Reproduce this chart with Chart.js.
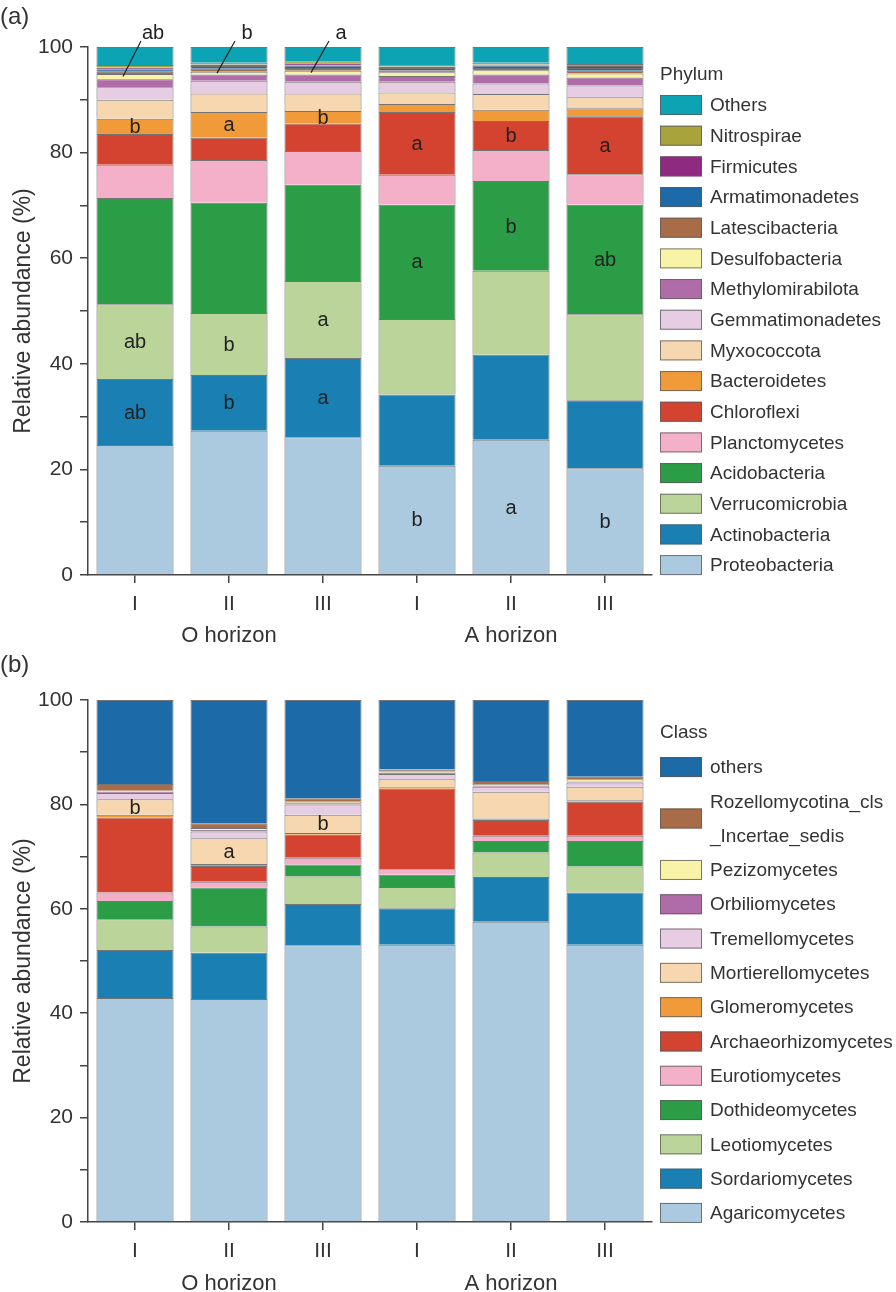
<!DOCTYPE html>
<html>
<head>
<meta charset="utf-8">
<script src="https://cdn.jsdelivr.net/npm/chart.js@4.4.1/dist/chart.umd.min.js"></script>
<style>
  html, body { margin: 0; padding: 0; background: #fff; }
  #wrap { position: relative; width: 896px; height: 1292px; }
  .panel { position: absolute; left: 0; width: 896px; height: 646px; }
  #panelA { top: 0; }
  #panelB { top: 646px; }
</style>
</head>
<body>
<div id="wrap">
  <div class="panel" id="panelA"><canvas id="chartA"></canvas></div>
  <div class="panel" id="panelB"><canvas id="chartB"></canvas></div>
</div>
<script>
// ── Data ───────────────────────────────────────────────────────────
const samples  = ['I', 'II', 'III', 'I', 'II', 'III'];
const horizons = ['O horizon', 'A horizon'];
const yTicks   = [0, 20, 40, 60, 80, 100];

// (a) phylum, bottom to top of each bar
const proteobacteria    = [24.6, 27.3, 26.1, 20.7, 25.6, 20.2];
const actinobacteria    = [12.5, 10.6, 15.0, 13.5, 16.1, 12.9];
const verrucomicrobia   = [14.2, 11.7, 14.6, 14.3, 15.9, 16.3];
const acidobacteria     = [20.1, 20.9, 18.2, 21.6, 17.0, 20.7];
const planctomycetes    = [6.3, 8.1, 6.4, 5.7, 5.9, 5.8];
const chloroflexi       = [5.8, 4.2, 5.2, 11.9, 5.5, 11.0];
const bacteroidetes     = [2.9, 4.9, 2.4, 1.5, 2.1, 1.5];
const myxococcota       = [3.6, 3.5, 3.3, 2.2, 3.0, 2.1];
const gemmatimonadetes  = [2.4, 2.4, 2.2, 2.0, 2.0, 2.2];
const methylomirabilota = [1.5, 1.2, 1.4, 1.1, 1.7, 1.5];
const desulfobacteria   = [1.0, 0.5, 0.7, 0.7, 0.8, 0.8];
const latescibacteria   = [0.4, 0.6, 0.5, 0.4, 0.4, 0.5];
const armatimonadetes   = [0.5, 0.5, 0.5, 0.4, 0.5, 0.5];
const firmicutes        = [0.3, 0.3, 0.4, 0.3, 0.2, 0.4];
const nitrospirae       = [0.5, 0.3, 0.4, 0.3, 0.3, 0.4];
const othersPhylum      = [3.4, 3.0, 2.7, 3.4, 3.0, 3.2];

// (b) class, bottom to top of each bar
const agaricomycetes      = [42.9, 42.7, 53.0, 53.1, 57.5, 53.1];
const sordariomycetes     = [9.2, 8.9, 7.9, 7.0, 8.6, 10.0];
const leotiomycetes       = [5.9, 5.0, 5.3, 4.1, 4.7, 5.0];
const dothideomycetes     = [3.5, 7.5, 2.3, 2.3, 2.2, 4.9];
const eurotiomycetes      = [1.6, 1.1, 1.3, 1.1, 1.0, 1.0];
const archaeorhizomycetes = [14.4, 3.0, 4.4, 15.4, 3.0, 6.5];
const glomeromycetes      = [0.5, 0.4, 0.3, 0.3, 0.3, 0.3];
const mortierellomycetes  = [3.0, 4.9, 3.5, 1.5, 5.1, 2.6];
const tremellomycetes     = [1.2, 1.3, 2.0, 1.0, 1.0, 0.8];
const orbiliomycetes      = [0.2, 0.3, 0.2, 0.3, 0.2, 0.2];
const pezizomycetes       = [0.2, 0.4, 0.3, 0.2, 0.3, 0.4];
const rozellomycotina     = [1.3, 0.9, 0.7, 0.4, 0.6, 0.5];
const othersClass         = [16.1, 23.6, 18.8, 13.3, 15.5, 14.7];

// significance letters
const lettersActino   = ['ab', 'b', 'a', '', '', ''];
const lettersVerruco  = ['ab', 'b', 'a', '', '', ''];
const lettersBactero  = ['b', 'a', 'b', '', '', ''];
const lettersProteo   = ['', '', '', 'b', 'a', 'b'];
const lettersAcido    = ['', '', '', 'a', 'b', 'ab'];
const lettersChloro   = ['', '', '', 'a', 'b', 'a'];
const lettersDesulfo  = ['ab', 'b', 'a', '', '', ''];
const lettersMortier  = ['b', 'a', 'b', '', '', ''];

// ── Styles ─────────────────────────────────────────────────────────
const FONT = '"Liberation Sans", Arial, sans-serif';
const INK  = '#333';
const C = {
  ltblue: '#abcadf', blue: '#1a80b3', ltgreen: '#bad49a', green: '#2a9d46',
  pink: '#f4b0c9', red: '#d4432f', orange: '#f09a3a', peach: '#f7d7b0',
  lilac: '#e6cde3', mauve: '#b06ca9', yellow: '#f8f3a6', brown: '#a86d48',
  navy: '#1c6aa8', plum: '#8e2a7f', olive: '#a9a33b', teal: '#0ca4b4',
};

function ds(label, data, color, extra) {
  return Object.assign({ label, data, backgroundColor: color,
    borderColor: 'rgba(70,70,70,0.75)', borderWidth: 1,
    categoryPercentage: 1, barPercentage: 0.82 }, extra || {});
}

const phylumSets = [
  ds('Proteobacteria', proteobacteria, C.ltblue, { letters: lettersProteo }),
  ds('Actinobacteria', actinobacteria, C.blue, { letters: lettersActino }),
  ds('Verrucomicrobia', verrucomicrobia, C.ltgreen, { letters: lettersVerruco }),
  ds('Acidobacteria', acidobacteria, C.green, { letters: lettersAcido }),
  ds('Planctomycetes', planctomycetes, C.pink),
  ds('Chloroflexi', chloroflexi, C.red, { letters: lettersChloro }),
  ds('Bacteroidetes', bacteroidetes, C.orange, { letters: lettersBactero }),
  ds('Myxococcota', myxococcota, C.peach),
  ds('Gemmatimonadetes', gemmatimonadetes, C.lilac),
  ds('Methylomirabilota', methylomirabilota, C.mauve),
  ds('Desulfobacteria', desulfobacteria, C.yellow, { leader: lettersDesulfo }),
  ds('Latescibacteria', latescibacteria, C.brown),
  ds('Armatimonadetes', armatimonadetes, C.navy),
  ds('Firmicutes', firmicutes, C.plum),
  ds('Nitrospirae', nitrospirae, C.olive),
  ds('Others', othersPhylum, C.teal),
];

const classSets = [
  ds('Agaricomycetes', agaricomycetes, C.ltblue),
  ds('Sordariomycetes', sordariomycetes, C.blue),
  ds('Leotiomycetes', leotiomycetes, C.ltgreen),
  ds('Dothideomycetes', dothideomycetes, C.green),
  ds('Eurotiomycetes', eurotiomycetes, C.pink),
  ds('Archaeorhizomycetes', archaeorhizomycetes, C.red),
  ds('Glomeromycetes', glomeromycetes, C.orange),
  ds('Mortierellomycetes', mortierellomycetes, C.peach, { letters: lettersMortier }),
  ds('Tremellomycetes', tremellomycetes, C.lilac),
  ds('Orbiliomycetes', orbiliomycetes, C.mauve),
  ds('Pezizomycetes', pezizomycetes, C.yellow),
  ds('Rozellomycotina_cls\n_Incertae_sedis', rozellomycotina, C.brown),
  ds('others', othersClass, C.navy),
];

// ── Plugins ────────────────────────────────────────────────────────
const lettersPlugin = {
  id: 'letters',
  afterDatasetsDraw(chart) {
    const { ctx, chartArea } = chart;
    ctx.save();
    ctx.font = '20px ' + FONT;
    ctx.fillStyle = '#222';
    ctx.strokeStyle = '#222';
    ctx.lineWidth = 1.2;
    ctx.textAlign = 'center';
    ctx.textBaseline = 'middle';
    chart.data.datasets.forEach((d, di) => {
      const meta = chart.getDatasetMeta(di);
      (d.letters || []).forEach((t, i) => {
        if (!t) return;
        const bar = meta.data[i];
        ctx.fillText(t, bar.x, (bar.y + bar.base) / 2 + 1);
      });
      (d.leader || []).forEach((t, i) => {
        if (!t) return;
        const bar = meta.data[i];
        const ey = (bar.y + bar.base) / 2, ex = bar.x - 12;
        const sx = bar.x + 6, sy = chartArea.top - 6;
        ctx.beginPath(); ctx.moveTo(sx, sy); ctx.lineTo(ex, ey); ctx.stroke();
        ctx.fillText(t, sx + 12, chartArea.top - 14);
      });
    });
    ctx.restore();
  },
};

const decorPlugin = {
  id: 'decor',
  afterDraw(chart, args, o) {
    const { ctx, chartArea } = chart;
    const x = chart.scales.x;
    ctx.save();
    ctx.fillStyle = INK;
    ctx.textBaseline = 'middle';
    // panel tag
    ctx.font = '24px ' + FONT;
    ctx.textAlign = 'left';
    ctx.fillText(o.tag, 0, o.tagY);
    // horizon group labels
    ctx.font = '22px ' + FONT;
    ctx.textAlign = 'center';
    horizons.forEach((h, g) => {
      ctx.fillText(h, x.getPixelForValue(g * 3 + 1), chartArea.bottom + o.groupDy);
    });
    // side legend (top of stack first)
    const bx = chartArea.right + 8;
    ctx.textAlign = 'left';
    ctx.font = '19px ' + FONT;
    ctx.fillText(o.title, bx, chartArea.top + o.titleDy);
    let cur = chartArea.top + o.firstDy;
    chart.data.datasets.slice().reverse().forEach(d => {
      const lines = d.label.split('\n');
      const h = lines.length * o.step;
      const cy = cur + h / 2;
      ctx.fillStyle = d.backgroundColor;
      ctx.fillRect(bx, cy - 10, 42, 20);
      ctx.strokeStyle = 'rgba(90,90,90,0.8)';
      ctx.lineWidth = 1;
      ctx.strokeRect(bx + 0.5, cy - 9.5, 41, 19);
      ctx.fillStyle = INK;
      lines.forEach((ln, k) => ctx.fillText(ln, bx + 50, cur + o.step / 2 + k * o.step + 1));
      cur += h;
    });
    ctx.restore();
  },
};

// ── Chart factory ──────────────────────────────────────────────────
function makeChart(id, datasets, yTitle, top, xHeight, decor) {
  return new Chart(document.getElementById(id), {
    type: 'bar',
    data: { labels: samples, datasets },
    options: {
      responsive: true,
      maintainAspectRatio: false,
      animation: false,
      layout: { padding: { left: 10, top, right: 244, bottom: 0 } },
      plugins: { legend: { display: false }, tooltip: { enabled: false }, decor },
      scales: {
        x: {
          stacked: true,
          grid: { display: true, drawOnChartArea: false, offset: false,
                  tickLength: 8, color: '#444', lineWidth: 1.5 },
          border: { display: true, color: '#444', width: 1.5 },
          ticks: { color: INK, font: { family: FONT, size: 21 }, padding: 9 },
          afterFit(s) { s.height = xHeight; },
        },
        y: {
          stacked: true,
          min: 0, max: 100,
          grid: { display: true, drawOnChartArea: false, tickLength: 8,
                  color: '#444', lineWidth: 1.5 },
          border: { display: true, color: '#444', width: 1.5 },
          ticks: {
            stepSize: 10, autoSkip: false, color: INK, padding: 7,
            font: { family: FONT, size: 21 },
            callback: v => (yTicks.includes(v) ? v : ''),
          },
          title: { display: true, text: yTitle, color: INK,
                   font: { family: FONT, size: 23 }, padding: { top: 0, bottom: 0 } },
          afterFit(s) { s.width = 78; },
        },
      },
    },
    plugins: [lettersPlugin, decorPlugin],
  });
}

makeChart('chartA', phylumSets, 'Relative abundance (%)', 47, 71,
  { tag: '(a)', tagY: 17, groupDy: 61, title: 'Phylum', titleDy: 28, firstDy: 42.7, step: 30.67 });
makeChart('chartB', classSets, 'Relative abundance (%)', 54, 70,
  { tag: '(b)', tagY: 19, groupDy: 62, title: 'Class', titleDy: 33, firstDy: 49.9, step: 34.3 });
</script>
</body>
</html>
